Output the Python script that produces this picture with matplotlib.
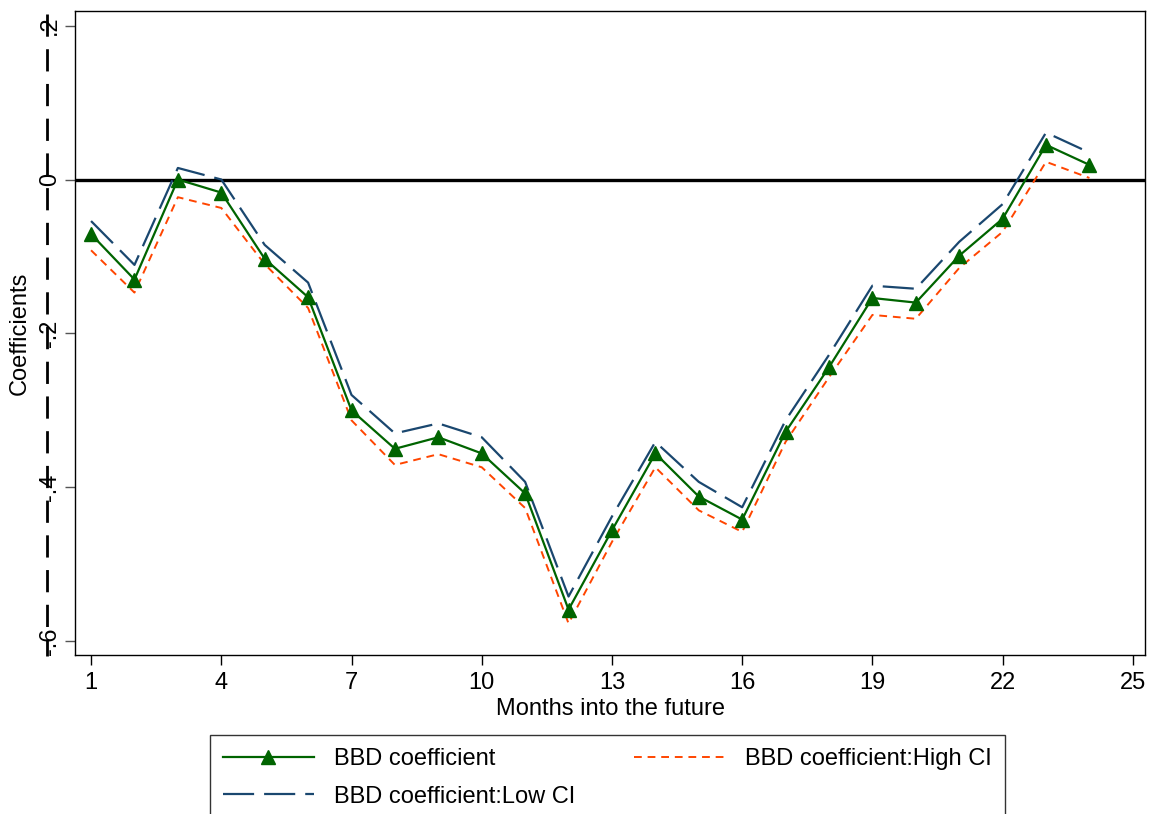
import matplotlib.pyplot as plt
from matplotlib.lines import Line2D

months = list(range(1, 25))
coef = [-0.071, -0.130, -0.000, -0.017, -0.103, -0.153, -0.300, -0.350, -0.335, -0.356, -0.408, -0.559,
        -0.456, -0.356, -0.412, -0.442, -0.328, -0.244, -0.154, -0.160, -0.099, -0.051, 0.045, 0.019]
low_ci = [-0.054, -0.111, 0.015, -0.000, -0.085, -0.134, -0.280, -0.330, -0.317, -0.335, -0.393, -0.542,
          -0.438, -0.341, -0.393, -0.426, -0.313, -0.228, -0.138, -0.142, -0.081, -0.032, 0.061, 0.035]
high_ci = [-0.092, -0.147, -0.023, -0.037, -0.110, -0.167, -0.313, -0.371, -0.357, -0.374, -0.427, -0.577,
           -0.471, -0.374, -0.430, -0.458, -0.341, -0.257, -0.176, -0.181, -0.115, -0.068, 0.023, 0.002]
xticks = [1, 4, 7, 10, 13, 16, 19, 22, 25]
yticks = [0.2, 0, -0.2, -0.4, -0.6]
ylabels = ['.2', '0', '-.2', '-.4', '-.6']

plt.rcParams['font.family'] = ['Liberation Sans', 'DejaVu Sans']

W, H = 1151, 814
fig = plt.figure(figsize=(W / 100, H / 100), dpi=100)
ax = fig.add_axes([75 / W, 1 - 655 / H, 1070 / W, 644 / H])

green = '#006400'
navy = '#1a476f'
orange = '#ff4500'

ax.axhline(0, color='black', lw=2.4, zorder=1)
l1, = ax.plot(months, coef, color=green, lw=1.6, marker='^', markersize=10, zorder=3)
l3, = ax.plot(months, high_ci, color=orange, lw=1.4, dashes=(4, 3), zorder=2)
l2, = ax.plot(months, low_ci, color=navy, lw=1.6, dashes=(14, 4.5), zorder=2)

ax.set_xlim(0.63, 25.28)
ax.set_ylim(-0.618, 0.219)
ax.set_xticks(xticks)
ax.set_yticks(yticks)
ax.set_yticklabels(ylabels, rotation=90, va='center')
ax.tick_params(axis='x', labelsize=17, length=7, width=1, pad=5)
ax.tick_params(axis='y', labelsize=17, length=7, width=1, pad=3, color='#555555')
for s in ax.spines.values():
    s.set_linewidth(1)
ax.set_xlabel('Months into the future', fontsize=17, labelpad=3)
fig.text(20 / W, 1 - 333 / H, 'Coefficients', rotation=90, ha='center', va='center', fontsize=17)

# dashed y axis line
fig.add_artist(Line2D([47 / W, 47 / W], [1 - 14 / H, 1 - 656 / H], color='black', lw=2, dashes=(8, 4.5)))

leg = fig.legend([l1, l2, l3],
                 ['BBD coefficient', 'BBD coefficient:Low CI', 'BBD coefficient:High CI'],
                 ncol=2, loc='upper left', bbox_to_anchor=(210 / W, 1 - 735 / H),
                 fontsize=17, frameon=True, fancybox=False, edgecolor='black',
                 handlelength=3.85, handletextpad=0.85, columnspacing=2.5,
                 labelspacing=0.66, borderpad=0.55, borderaxespad=0)
leg.get_frame().set_linewidth(1)

fig.savefig('out.png', dpi=100)
